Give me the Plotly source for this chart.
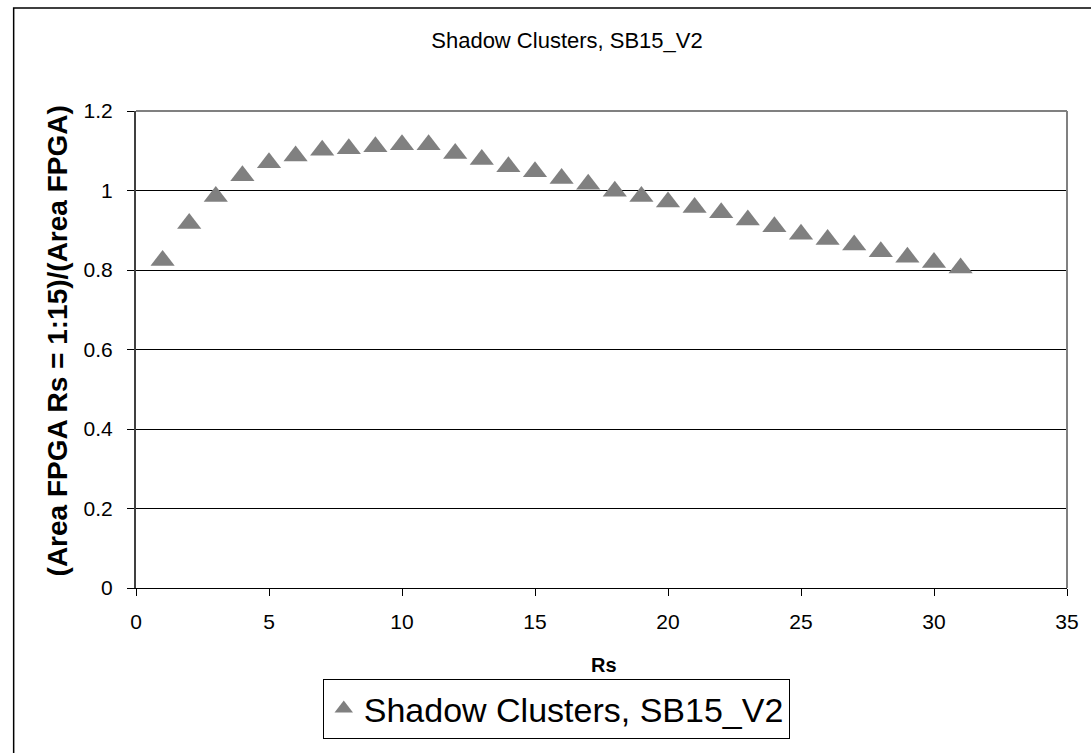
import plotly.graph_objects as go

rs = list(range(1, 32))
ratio = [0.824, 0.917, 0.985, 1.037, 1.070, 1.087, 1.101, 1.105, 1.110, 1.115,
         1.115, 1.093, 1.078, 1.060, 1.047, 1.030, 1.016, 0.998, 0.985, 0.971,
         0.957, 0.944, 0.926, 0.909, 0.890, 0.877, 0.863, 0.846, 0.832, 0.819, 0.805]
series_name = "Shadow Clusters, SB15_V2"
title_text = "Shadow Clusters, SB15_V2"
x_title = "Rs"
y_title = "(Area FPGA Rs = 1:15)/(Area FPGA)"
x_ticks = [0, 5, 10, 15, 20, 25, 30, 35]
y_ticks = [0, 0.2, 0.4, 0.6, 0.8, 1.0, 1.2]
y_ticklabels = ["0", "0.2", "0.4", "0.6", "0.8", "1", "1.2"]

FONT = "Liberation Sans, Arial, sans-serif"

fig = go.Figure()
fig.add_trace(go.Scatter(
    x=rs, y=ratio, mode="markers", name=series_name,
    marker=dict(symbol="triangle-up", size=21, color="#808080", line=dict(width=0)),
))

fig.update_layout(
    width=1091, height=753,
    margin=dict(l=136, r=19, t=111, b=165),
    paper_bgcolor="white", plot_bgcolor="white",
    font=dict(family=FONT, color="black"),
    showlegend=True,
    legend=dict(x=0.4514, xanchor="center", y=(588-679)/477, yanchor="top",
                orientation="h", bordercolor="black", borderwidth=1,
                font=dict(size=34, family=FONT), bgcolor="white",
                itemsizing="trace"),
    title=dict(text=title_text, x=567/1091, xanchor="center", xref="container",
               y=1-40/753, yanchor="middle", yref="container",
               font=dict(size=22, family=FONT, color="black")),
)
fig.update_xaxes(range=[0, 35], tickvals=x_ticks, ticks="outside", ticklen=7,
                 tickcolor="black", showline=True, linecolor="black", linewidth=1,
                 showgrid=False, zeroline=False, tickfont=dict(size=21),
                 ticklabelstandoff=8)
fig.update_yaxes(range=[0, 1.2], tickvals=y_ticks, ticktext=y_ticklabels,
                 ticks="outside", ticklen=7, tickcolor="black", showline=True,
                 linecolor="#404040", linewidth=2, showgrid=True,
                 gridcolor="black", gridwidth=1, zeroline=False,
                 tickfont=dict(size=21), ticklabelstandoff=10)

fig.add_annotation(text="<b>%s</b>" % y_title, textangle=-90, x=(57-136)/936,
                   y=(588-341)/477, xref="paper", yref="paper", showarrow=False,
                   xanchor="center", yanchor="middle",
                   font=dict(size=28, family=FONT, color="black"))
fig.add_annotation(text="<b>%s</b>" % x_title, x=(607-136)/936, y=(588-665)/477,
                   xref="paper", yref="paper", showarrow=False,
                   xanchor="center", yanchor="middle",
                   font=dict(size=20, family=FONT, color="black"))
# plot-area border (top/right) in gray
fig.add_shape(type="line", xref="paper", yref="paper", x0=0, x1=1, y0=1, y1=1,
              line=dict(color="#808080", width=2), layer="above")
fig.add_shape(type="line", xref="paper", yref="paper", x0=1, x1=1, y0=0, y1=1,
              line=dict(color="#808080", width=2), layer="above")
# chart outer border (right and bottom edges fall outside the canvas)
fig.add_shape(type="rect", xref="paper", yref="paper",
              x0=(13-136)/936, x1=(1110-136)/936, y0=(588-770)/477, y1=(588-8)/477,
              line=dict(color="black", width=1.5), layer="above")

fig.write_html("out.html")
